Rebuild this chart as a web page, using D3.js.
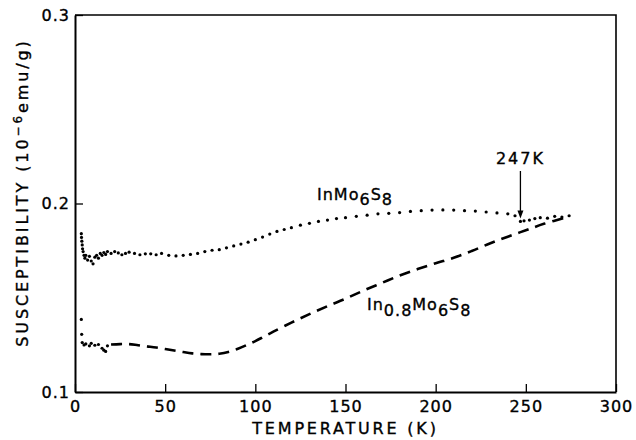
<!DOCTYPE html>
<html lang="en">
<head>
<meta charset="UTF-8">
<title>Susceptibility vs temperature</title>
<script src="https://cdn.jsdelivr.net/npm/d3@7"></script>
<style>
  body { margin: 0; background: #fff; }
  text { font-family: "DejaVu Sans", sans-serif; fill: #000; stroke: #000; stroke-width: 0.35px; }
</style>
</head>
<body>
<svg width="636" height="440"></svg>
<script>
// InMo6S8 : measured points (dotted)
var upperT = [3.5,3.6,3.8,4,4.2,4.5,5,5.5,6,7,8,9,10,11,12,13,14,15,16,17,18,20,22,24,26,28,30,33,36,39,42,45,48,52,56,60,64,68,72,76,80,84,88,92,96,100,104,108,112,116,120,125,130,135,140,145,150,156,162,168,174,180,186,192,198,204,210,216,222,228,234,240,244,247,249,252,255,258,262,266,270,274];
var upperChi = [0.184,0.182,0.180,0.178,0.176,0.1745,0.1725,0.171,0.1725,0.170,0.172,0.1695,0.168,0.1715,0.1725,0.171,0.1735,0.1725,0.174,0.173,0.1745,0.1735,0.1745,0.1738,0.1728,0.1735,0.1742,0.1735,0.1728,0.1733,0.1733,0.1728,0.1735,0.1725,0.1722,0.1725,0.173,0.1735,0.1745,0.1752,0.1755,0.1765,0.1775,0.1785,0.1795,0.1808,0.1822,0.1838,0.1852,0.1862,0.1872,0.1885,0.1895,0.1905,0.1912,0.192,0.1925,0.1932,0.1938,0.1945,0.1948,0.1952,0.1958,0.1962,0.1965,0.1966,0.1965,0.1962,0.196,0.1955,0.195,0.1945,0.1935,0.1905,0.1908,0.1912,0.192,0.1925,0.1922,0.1932,0.1928,0.1935];

// In0.8Mo6S8 : low temperature points, then the dashed curve
var lowT = [3.5,3.7,4,5,6,8,9,11,13,15,16,17,18];
var lowChi = [0.1385,0.1306,0.1262,0.125,0.1255,0.1245,0.1258,0.1248,0.1252,0.1232,0.1222,0.1215,0.1245];
var lowerT = [20,25,30,35,40,45,50,55,60,65,70,75,80,85,90,95,100,105,110,120,130,140,150,160,170,180,190,200,210,220,230,240,250,260,273];
var lowerChi = [0.1252,0.1254,0.1254,0.1248,0.1242,0.1236,0.1228,0.122,0.1212,0.1205,0.1201,0.12,0.1203,0.1212,0.1228,0.1248,0.127,0.1295,0.132,0.1368,0.1413,0.1455,0.1495,0.1538,0.1578,0.1618,0.1652,0.1683,0.1712,0.1748,0.1788,0.1824,0.1858,0.1892,0.1928];

var xTicks = [0,50,100,150,200,250,300];
var yTicks = [0.1,0.2,0.3];

var svg = d3.select('svg');
var padLeft = 75, padRight = 616, padTop = 15, padBottom = 392;

var x = d3.scaleLinear().domain([0,300]).range([padLeft,padRight]);
var y = d3.scaleLinear().domain([0.1,0.3]).range([padBottom,padTop]);

// frame: top and right sides
svg.append('path')
   .attr('d', 'M' + x(0) + ',' + y(0.3) + 'H' + x(300) + 'V' + y(0.1))
   .attr('fill','none').attr('stroke','#000').attr('stroke-width',1.6);

var xAxis = d3.axisBottom(x).tickValues(xTicks).tickSize(-8).tickSizeOuter(0).tickPadding(9);
var yAxis = d3.axisLeft(y).tickValues(yTicks).tickSize(-8).tickSizeOuter(0).tickPadding(5)
              .tickFormat(d3.format('.1f'));

var gx = svg.append('g').attr('transform','translate(0,' + padBottom + ')').call(xAxis);
var gy = svg.append('g').attr('transform','translate(' + padLeft + ',0)').call(yAxis);
[gx, gy].forEach(function (g) {
    g.select('.domain').attr('stroke-width',2);
    g.selectAll('.tick line').attr('stroke-width',1.3);
    g.selectAll('.tick text').attr('font-size',16).attr('letter-spacing',1)
     .attr('font-family','"DejaVu Sans", sans-serif');
});

// axis titles
svg.append('text').attr('x',(padLeft+padRight)/2).attr('y',434)
   .attr('text-anchor','middle').attr('font-size',16).attr('letter-spacing',2.8)
   .text('TEMPERATURE (K)');

var yt = svg.append('text').attr('transform','translate(28,' + ((padTop+padBottom)/2 - 11) + ') rotate(-90)')
   .attr('text-anchor','middle').attr('font-size',16).attr('letter-spacing',2.9);
yt.append('tspan').text('SUSCEPTIBILITY (10');
yt.append('tspan').attr('dy',-6).attr('font-size',12).text('\u22126');
yt.append('tspan').attr('dy',6).text('emu/g)');

// InMo6S8 dots
svg.append('g').selectAll('circle').data(upperT).enter().append('circle')
   .attr('cx', function (d) { return x(d); })
   .attr('cy', function (d, i) { return y(upperChi[i]); })
   .attr('r', 1.6).attr('fill','#000');

// In0.8Mo6S8 low temperature dots
svg.append('g').selectAll('circle').data(lowT).enter().append('circle')
   .attr('cx', function (d) { return x(d); })
   .attr('cy', function (d, i) { return y(lowChi[i]); })
   .attr('r', 1.6).attr('fill','#000');

// In0.8Mo6S8 dashed curve
var line = d3.line()
    .x(function (d) { return x(d); })
    .y(function (d, i) { return y(lowerChi[i]); })
    .curve(d3.curveCatmullRom);
svg.append('path').attr('d', line(lowerT))
   .attr('fill','none').attr('stroke','#000').attr('stroke-width',2.6)
   .attr('stroke-dasharray','11,7');

// 247 K arrow
var ax = x(247), tipY = y(0.1915) - 1;
svg.append('line').attr('x1',ax).attr('x2',ax).attr('y1',171).attr('y2',tipY - 4)
   .attr('stroke','#000').attr('stroke-width',1.3);
svg.append('path')
   .attr('d','M' + (ax-3) + ',' + (tipY-8) + 'L' + ax + ',' + tipY + 'L' + (ax+3) + ',' + (tipY-8) + 'Z')
   .attr('fill','#000');
svg.append('text').attr('x',ax).attr('y',164).attr('text-anchor','middle')
   .attr('font-size',16).attr('letter-spacing',2).text('247K');

// series labels
var l1 = svg.append('text').attr('x',317).attr('y',200).attr('font-size',16).attr('letter-spacing',1);
l1.append('tspan').text('InMo');
l1.append('tspan').attr('dy',5).text('6');
l1.append('tspan').attr('dy',-5).text('S');
l1.append('tspan').attr('dy',5).text('8');

var l2 = svg.append('text').attr('x',367).attr('y',310).attr('font-size',16).attr('letter-spacing',1);
l2.append('tspan').text('In');
l2.append('tspan').attr('dy',6).text('0.8');
l2.append('tspan').attr('dy',-6).text('Mo');
l2.append('tspan').attr('dy',6).text('6');
l2.append('tspan').attr('dy',-6).text('S');
l2.append('tspan').attr('dy',6).text('8');
</script>
</body>
</html>
